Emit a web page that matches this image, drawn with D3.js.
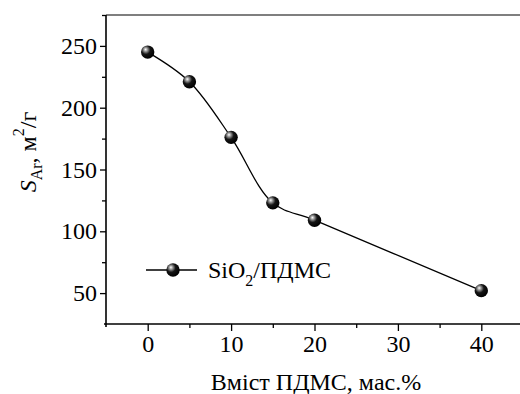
<!DOCTYPE html>
<html>
<head>
<meta charset="utf-8">
<script src="https://cdn.jsdelivr.net/npm/d3@7"></script>
<style>
  html, body { margin: 0; padding: 0; background: #fff; }
  svg { display: block; }
</style>
</head>
<body>
<svg id="chart" width="520" height="394"></svg>
<script>
// PDMS content (wt.%) and argon specific surface area (m²/g)
const pdmsContent = [0, 5, 10, 15, 20, 40];
const surfaceArea = [245, 221, 176, 123, 109, 52];
const xTicks = [0, 10, 20, 30, 40];
const xMinorTicks = [5, 15, 25, 35, 45];
const yTicks = [50, 100, 150, 200, 250];
const yMinorTicks = [75, 125, 175, 225, 275];

const FONT = "Liberation Serif";
const FS = 24;
const svg = d3.select("#chart");
const plotLeft = 106, plotTop = 15, plotBottom = 324, plotRight = 523;

const x = d3.scaleLinear().domain([-5, 45]).range([plotLeft, plotRight]);
const y = d3.scaleLinear().domain([25, 275]).range([plotBottom, plotTop]);

// sphere-like marker shading
const defs = svg.append("defs");
const grad = defs.append("radialGradient")
  .attr("id", "ball").attr("cx", "38%").attr("cy", "36%").attr("r", "64%")
  .attr("fx", "34%").attr("fy", "30%");
grad.append("stop").attr("offset", "0%").attr("stop-color", "#ffffff");
grad.append("stop").attr("offset", "20%").attr("stop-color", "#a0a0a0");
grad.append("stop").attr("offset", "52%").attr("stop-color", "#151515");
grad.append("stop").attr("offset", "100%").attr("stop-color", "#000000");

// top frame line
svg.append("line")
  .attr("x1", plotLeft).attr("x2", 520).attr("y1", plotTop).attr("y2", plotTop)
  .attr("stroke", "#555").attr("stroke-width", 1.5);

// axes
const xAxis = d3.axisBottom(x).tickValues(xTicks).tickSize(7).tickPadding(4)
  .tickFormat(d3.format("d"));
const xMinor = d3.axisBottom(x).tickValues(xMinorTicks).tickSize(4).tickFormat("");
const yAxis = d3.axisLeft(y).tickValues(yTicks).tickSize(6).tickPadding(3)
  .tickFormat(d3.format("d"));
const yMinor = d3.axisLeft(y).tickValues(yMinorTicks).tickSize(4).tickFormat("");

function styleAxis(g) {
  g.attr("font-family", FONT).attr("font-size", FS);
  g.select(".domain").remove();
  g.selectAll(".tick line").attr("stroke", "#000").attr("stroke-width", 1.3);
  g.selectAll("text").attr("fill", "#000");
}

svg.append("g").attr("transform", `translate(0,${plotBottom})`).call(xAxis).call(styleAxis);
svg.append("g").attr("transform", `translate(0,${plotBottom})`).call(xMinor).call(styleAxis);
svg.append("g").attr("transform", `translate(${plotLeft},0)`).call(yAxis).call(styleAxis);
svg.append("g").attr("transform", `translate(${plotLeft},0)`).call(yMinor).call(styleAxis);

// axis lines
svg.append("line").attr("x1", plotLeft).attr("x2", plotLeft).attr("y1", plotTop).attr("y2", plotBottom + 3)
  .attr("stroke", "#000").attr("stroke-width", 1.6);
svg.append("line").attr("x1", plotLeft - 2).attr("x2", 520).attr("y1", plotBottom).attr("y2", plotBottom)
  .attr("stroke", "#000").attr("stroke-width", 1.6);

// smoothed curve through the points
const line = d3.line()
  .x((d, i) => x(pdmsContent[i]))
  .y(d => y(d))
  .curve(d3.curveCatmullRom.alpha(0.5));
svg.append("path")
  .datum(surfaceArea)
  .attr("d", line)
  .attr("fill", "none")
  .attr("stroke", "#000")
  .attr("stroke-width", 1.3);

svg.append("g").selectAll("circle")
  .data(surfaceArea)
  .join("circle")
  .attr("cx", (d, i) => x(pdmsContent[i]))
  .attr("cy", d => y(d))
  .attr("r", 6.7)
  .attr("fill", "url(#ball)");

// legend
const leg = svg.append("g");
leg.append("line").attr("x1", 146).attr("x2", 197).attr("y1", 270).attr("y2", 270)
  .attr("stroke", "#000").attr("stroke-width", 1.3);
leg.append("circle").attr("cx", 173).attr("cy", 270).attr("r", 6.7).attr("fill", "url(#ball)");
const lt = leg.append("text").attr("x", 208).attr("y", 278)
  .attr("font-family", FONT).attr("font-size", FS);
lt.append("tspan").text("SiO");
lt.append("tspan").attr("font-size", 16).attr("dy", 8).text("2");
lt.append("tspan").attr("dy", -8).text("/ПДМС");

// x-axis title
svg.append("text")
  .attr("x", 316).attr("y", 390)
  .attr("text-anchor", "middle")
  .attr("font-family", FONT).attr("font-size", FS)
  .text("Вміст ПДМС, мас.%");

// y-axis title
const yt = svg.append("text")
  .attr("transform", "translate(36,152) rotate(-90)")
  .attr("text-anchor", "middle")
  .attr("font-family", FONT).attr("font-size", FS);
yt.append("tspan").attr("font-style", "italic").text("S");
yt.append("tspan").attr("font-size", 16).attr("dy", 6).text("Ar");
yt.append("tspan").attr("dy", -6).text(", м");
yt.append("tspan").attr("font-size", 16).attr("dy", -12).text("2");
yt.append("tspan").attr("dy", 12).text("/г");
</script>
</body>
</html>
